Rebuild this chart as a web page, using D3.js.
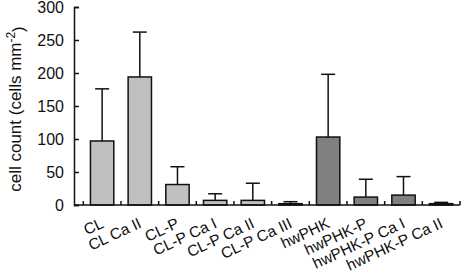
<!DOCTYPE html>
<html>
<head>
<meta charset="utf-8">
<script src="https://cdn.jsdelivr.net/npm/d3@7"></script>
<style>
  body { margin: 0; background: #fff; }
  text { font-family: "Liberation Sans", Arial, sans-serif; fill: #111; }
</style>
</head>
<body>
<div id="chart"></div>
<script>
// categories and values
const categories = ['CL', 'CL Ca II', 'CL-P', 'CL-P Ca I', 'CL-P Ca II', 'CL-P Ca III',
  'hwPHK', 'hwPHK-P', 'hwPHK-P Ca I', 'hwPHK-P Ca II'];
const means = [97, 194, 31, 7, 7, 2, 103, 12, 15, 2];
const errors = [79, 68, 27, 10, 26, 3, 95, 27, 28, 2];
const groups = ['CL', 'CL', 'CL', 'CL', 'CL', 'CL', 'hw', 'hw', 'hw', 'hw'];
const yTicks = [0, 50, 100, 150, 200, 250, 300];

const width = 470;
const height = 280;

const svg = d3.select('#chart')
  .append('svg')
  .attr('width', width)
  .attr('height', height);

// scales
const x = d3.scaleBand()
  .domain(categories)
  .range([83.3, 460])
  .paddingInner(0.38)
  .paddingOuter(0.19);

const y = d3.scaleLinear()
  .domain([0, 300])
  .range([205, 7]);

const color = d3.scaleOrdinal()
  .domain(['CL', 'hw'])
  .range(['#c0c0c0', '#808080']);

const data = categories.map((c, i) => ({ name: c, value: means[i], err: errors[i], group: groups[i] }));

// error bars (upper only)
const eb = svg.append('g').attr('class', 'errors');
eb.selectAll('line.stem')
  .data(data)
  .enter()
  .append('line')
  .attr('x1', d => x(d.name) + x.bandwidth() / 2)
  .attr('x2', d => x(d.name) + x.bandwidth() / 2)
  .attr('y1', d => y(d.value))
  .attr('y2', d => y(d.value + d.err))
  .attr('stroke', '#111')
  .attr('stroke-width', 1.5);
eb.selectAll('line.cap')
  .data(data)
  .enter()
  .append('line')
  .attr('x1', d => x(d.name) + x.bandwidth() / 2 - 7)
  .attr('x2', d => x(d.name) + x.bandwidth() / 2 + 7)
  .attr('y1', d => y(d.value + d.err))
  .attr('y2', d => y(d.value + d.err))
  .attr('stroke', '#111')
  .attr('stroke-width', 1.5);

// bars
svg.append('g')
  .selectAll('rect')
  .data(data)
  .enter()
  .append('rect')
  .attr('x', d => x(d.name))
  .attr('y', d => y(d.value))
  .attr('width', x.bandwidth())
  .attr('height', d => y(0) - y(d.value))
  .attr('fill', d => color(d.group))
  .attr('stroke', '#111')
  .attr('stroke-width', 1.5);

// y axis
const yAxis = svg.append('g')
  .attr('transform', 'translate(74,0)')
  .call(d3.axisLeft(y).tickValues(yTicks).tickSize(-5).tickPadding(10));
yAxis.select('.domain').attr('stroke', '#111').attr('stroke-width', 1.5);
yAxis.selectAll('.tick line').attr('stroke', '#111').attr('stroke-width', 1.5);
yAxis.selectAll('.tick text')
  .style('font-size', '16px')
  .style('font-family', '"Liberation Sans", Arial, sans-serif')
  .attr('fill', '#111');

// x axis line with ticks at band boundaries
const xAxis = svg.append('g').attr('class', 'x-axis');
xAxis.append('line')
  .attr('x1', 74).attr('x2', 460)
  .attr('y1', y(0)).attr('y2', y(0))
  .attr('stroke', '#111')
  .attr('stroke-width', 1.5);
const step = x.step();
const bounds = d3.range(categories.length + 1).map(i => x.range()[0] + i * step);
xAxis.selectAll('line.tick')
  .data(bounds)
  .enter()
  .append('line')
  .attr('x1', d => d).attr('x2', d => d)
  .attr('y1', y(0)).attr('y2', y(0) - 4)
  .attr('stroke', '#111')
  .attr('stroke-width', 1.5);

// rotated category labels
xAxis.selectAll('text')
  .data(categories)
  .enter()
  .append('text')
  .attr('transform', d => `translate(${ x(d) + x.bandwidth() / 2 - 2 },${ y(0) + 12 }) rotate(-25)`)
  .attr('text-anchor', 'end')
  .attr('dy', '0.71em')
  .style('font-size', '15.5px')
  .text(d => d);

// y axis title
const title = svg.append('text')
  .attr('transform', 'translate(21,109) rotate(-90)')
  .attr('text-anchor', 'middle')
  .style('font-size', '17px');
title.append('tspan').text('cell count (cells mm');
title.append('tspan').attr('dy', '-0.5em').style('font-size', '12px').text('-2');
title.append('tspan').attr('dy', '0.5em').text(')');
</script>
</body>
</html>
